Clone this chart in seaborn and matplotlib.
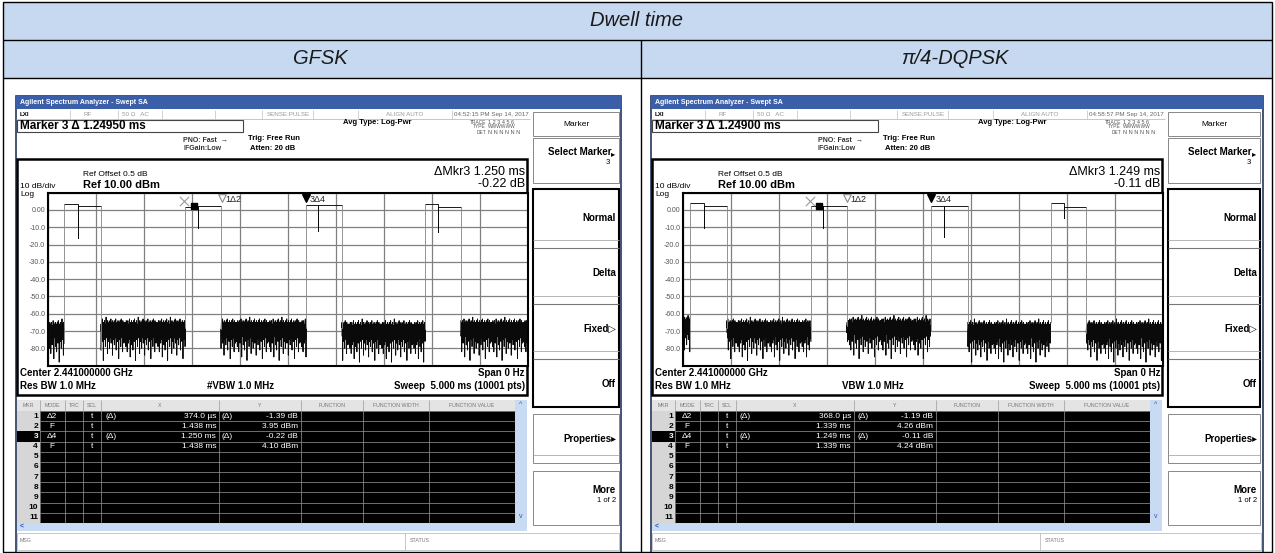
import numpy as np
import pandas as pd
import matplotlib
matplotlib.use('Agg')
import matplotlib.pyplot as plt
from matplotlib.patches import Rectangle
import seaborn as sns

# ---------------- values ----------------
TABLE_TITLE = 'Dwell time'
MODULATIONS = ['GFSK', 'π/4-DQPSK']
TIMESTAMPS = ['04:52:15 PM Sep 14, 2017', '04:58:57 PM Sep 14, 2017']
MARKER_READOUT = ['Marker 3 Δ 1.24950 ms', 'Marker 3 Δ 1.24900 ms']
DELTA_MKR_X = ['ΔMkr3 1.250 ms', 'ΔMkr3 1.249 ms']
DELTA_MKR_Y = ['-0.22 dB', '-0.11 dB']
VBW_LABELS = ['#VBW 1.0 MHz', 'VBW 1.0 MHz']

# marker table, rows 1..4
MKR_MODE = ['Δ2', 'F', 'Δ4', 'F']
MKR_REF = ['(Δ)', '', '(Δ)', '']
GFSK_MKR_X = ['374.0 µs', '1.438 ms', '1.250 ms', '1.438 ms']
GFSK_MKR_Y = ['-1.39 dB', '3.95 dBm', '-0.22 dB', '4.10 dBm']
DQPSK_MKR_X = ['368.0 µs', '1.339 ms', '1.249 ms', '1.339 ms']
DQPSK_MKR_Y = ['-1.19 dB', '4.26 dBm', '-0.11 dB', '4.24 dBm']

# marker positions on the trace (ms): markers 1, 2, 3, 4
GFSK_MKR_T = [1.812, 1.438, 2.688, 1.438]
DQPSK_MKR_T = [1.707, 1.339, 2.588, 1.339]

# bursts: rising edge, level step, falling edge (ms), levels (dBm)
GFSK_RISE = [0.17, 1.43, 2.69, 3.93]
GFSK_STEP = [0.31, 1.56, 2.81, 4.06]
GFSK_FALL = [0.55, 1.80, 3.06, 4.30]
GFSK_TOP1 = [3.3, 2.0, 2.6, 3.4]
GFSK_TOP2 = [2.4, 2.4, 2.6, 1.8]
GFSK_DIP = [-16.4, -10.6, -12.0, -12.5]
GFSK_FLOOR = [-71, -70, -70, -71, -70]

DQPSK_RISE = [0.073, 1.33, 2.58, 3.83]
DQPSK_STEP = [0.215, 1.46, 2.72, 3.97]
DQPSK_FALL = [0.455, 1.705, 2.966, 4.20]
DQPSK_TOP1 = [3.8, 2.4, 2.4, 3.9]
DQPSK_TOP2 = [2.4, 2.4, 2.4, 1.9]
DQPSK_DIP = [-10.6, -10.6, -15.7, -4.4]
DQPSK_FLOOR = [-68, -70, -69, -71, -71]

# noise floor samples (dB around the floor level)
NOISE_DEV = [3, -2, 5, -6, 1, 4, -9, 2, 6, -3, 0, 5, -12, 3, -1, 6, -4, 2, -7, 4,
             1, -2, 7, -5, 3, -15, 2, 5, -1, 4, -3, 6, -8, 1, 3, -2, 5, -11, 4, 0,
             6, -4, 2, -6, 7, 1, -3, 4, -17, 3, 5, -2, 0, 6, -5, 2, 4, -9, 3, -1,
             8, -4, 1, 5, -3, 2, -13, 6, 0, 3, -6, 4, -2, 5, 1, -10, 3, 6, -4, 2,
             -1, 7, -7, 4, 0, 5, -3, 2, -14, 6, 1, -5, 4, 3, -2, 5, -8, 2, 6, -1,
             3, -4, 7, 0, -11, 4, 2, -3, 5, 1, -6, 3, 6, -2, 4, -16, 2, 5, -1, 3,
             -5, 6, 0, 4, -9, 2, 7, -3, 1, 5, -4, 3, -12, 6, 2, -2, 4, 0, -7, 5]

Y_TICKS = [10, 0, -10, -20, -30, -40, -50, -60, -70, -80, -90]
Y_TICK_LABELS = ['', '0.00', '-10.0', '-20.0', '-30.0', '-40.0', '-50.0', '-60.0', '-70.0', '-80.0', '']

sns.set_theme(style='white')
plt.rcParams['font.family'] = ['Liberation Sans', 'DejaVu Sans']

W, H = 1275, 553
fig = plt.figure(figsize=(W / 100, H / 100), dpi=100)
bg = fig.add_axes([0, 0, 1, 1])
bg.set_xlim(0, W)
bg.set_ylim(H, 0)
bg.axis('off')


def box(x0, y0, x1, y1, fc='none', ec='black', lw=0.8, z=1):
    bg.add_patch(Rectangle((x0, y0), x1 - x0, y1 - y0, facecolor=fc,
                           edgecolor=ec, linewidth=lw, zorder=z))


def hline(y, x0, x1, color='black', lw=0.8, z=3):
    bg.plot([x0, x1], [y, y], color=color, lw=lw, zorder=z, solid_capstyle='butt')


def vline(x, y0, y1, color='black', lw=0.8, z=3):
    bg.plot([x, x], [y0, y1], color=color, lw=lw, zorder=z, solid_capstyle='butt')


def label(x, y, s, size=6, ha='left', va='center', weight='normal', color='black', style='normal', z=6):
    bg.text(x, y, s, fontsize=size, ha=ha, va=va, fontweight=weight, color=color,
            fontstyle=style, zorder=z)


def build_trace(rise, step, fall, top1, top2, dip, floor, start):
    rows = []
    piece = 0
    seg_start = [0.0] + list(fall)
    seg_end = list(rise) + [5.0]
    noise = []
    for i in range(len(seg_end)):
        n = max(int((seg_end[i] - seg_start[i]) * 420), 2)
        k = start + i * 37
        seg = []
        for tt in np.linspace(seg_start[i], seg_end[i], n):
            seg.append((tt, floor[i] + NOISE_DEV[k % len(NOISE_DEV)]))
            k += 1
        noise.append(seg)
    for i, seg in enumerate(noise):
        for tt, yy in seg:
            rows.append((piece, 'trace', tt, yy))
        piece += 1
        if i < len(rise):
            # rising edge, burst top with its dip, falling edge
            rows += [(piece, 'edge', rise[i], seg[-1][1]), (piece, 'edge', rise[i], top1[i])]
            piece += 1
            for tt, yy in [(rise[i], top1[i]), (step[i], top1[i]), (step[i], dip[i]),
                           (step[i], top2[i]), (fall[i], top2[i])]:
                rows.append((piece, 'trace', tt, yy))
            piece += 1
            rows += [(piece, 'edge', fall[i], top2[i]), (piece, 'edge', fall[i], noise[i + 1][0][1])]
            piece += 1
    return pd.DataFrame(rows, columns=['piece', 'kind', 't', 'dB'])


# ---------------- outer table ----------------
box(3, 2, 1272, 78, fc='#c6d9f1', ec='none', z=0)
box(3, 2, 1272, 552, fc='none', ec='black', lw=1.0, z=8)
hline(40, 3, 1272, lw=1.0, z=8)
hline(78, 3, 1272, lw=1.0, z=8)
vline(641, 40, 552, lw=1.0, z=8)
label(637, 21, TABLE_TITLE, 14.5, ha='center', style='italic', color='#1a1a1a')
label(320, 59, MODULATIONS[0], 14.5, ha='center', style='italic', color='#1a1a1a')
label(955, 59, MODULATIONS[1], 14.5, ha='center', style='italic', color='#1a1a1a')


def draw_screen(i, dx, left, right, sk_right, trace, mkr_t, mkr_x, mkr_y):
    # frame and title bar
    box(left, 96, right, 553, fc='white', ec='#22355f', lw=1.2, z=1)
    box(left, 96, right, 109, fc='#3b5ea9', ec='none', z=2)
    label(left + 4, 102.5, 'Agilent Spectrum Analyzer - Swept SA', 5, weight='bold', color='white')

    # status row
    hline(119, left, 530 + dx, color='#b0b0b0', lw=0.5)
    for xs in [70, 118, 162, 215, 262, 313, 358, 452]:
        vline(xs + dx, 110, 119, color='#c0c0c0', lw=0.5)
    label(20 + dx, 114.5, 'LXI', 4.5, weight='bold')
    label(88 + dx, 114.5, 'RF', 4.5, ha='center', color='#999999')
    label(122 + dx, 114.5, '50 Ω   AC', 4.5, color='#999999')
    label(288 + dx, 114.5, 'SENSE:PULSE', 4.5, ha='center', color='#999999')
    label(405 + dx, 114.5, 'ALIGN AUTO', 4.5, ha='center', color='#999999')
    label(529 + dx, 114.5, TIMESTAMPS[i], 4.5, ha='right', color='#666666')

    # marker readout and settings
    box(17 + dx, 120, 243 + dx, 132, ec='#444444', lw=0.8, z=2)
    label(20 + dx, 126, MARKER_READOUT[i], 8.5, weight='bold')
    label(183 + dx, 140, 'PNO: Fast  →', 5, weight='bold', color='#333333')
    label(183 + dx, 149, 'IFGain:Low', 5, weight='bold', color='#333333')
    label(248 + dx, 139, 'Trig: Free Run', 5.5, weight='bold')
    label(250 + dx, 149, 'Atten: 20 dB', 5.5, weight='bold')
    label(343 + dx, 122, 'Avg Type: Log-Pwr', 5.5, weight='bold')
    label(486 + dx, 122, 'TRACE', 3.5, ha='right', color='#555555')
    label(486 + dx, 127, 'TYPE', 3.5, ha='right', color='#555555')
    label(486 + dx, 132, 'DET', 3.5, ha='right', color='#555555')
    label(488 + dx, 122, '1 2 3 4 5 6', 4, color='#555555')
    label(488 + dx, 127, 'WWWWWW', 3.5, color='#555555')
    label(488 + dx, 132, 'N N N N N N', 4, color='#555555')

    # graph window
    box(17 + dx, 159, 527 + dx, 395, ec='black', lw=1.8, z=2)
    label(83 + dx, 175, 'Ref Offset 0.5 dB', 6)
    label(20 + dx, 186, '10 dB/div', 6)
    label(83 + dx, 185, 'Ref 10.00 dBm', 8, weight='bold')
    label(20 + dx, 194, 'Log', 6)
    label(525 + dx, 172, DELTA_MKR_X[i], 9, ha='right')
    label(525 + dx, 184, DELTA_MKR_Y[i], 9, ha='right')
    label(20 + dx, 373, 'Center 2.441000000 GHz', 7, weight='bold')
    label(20 + dx, 386, 'Res BW 1.0 MHz', 7, weight='bold')
    label(207 + dx, 386, VBW_LABELS[i], 7, weight='bold')
    label(525 + dx, 373, 'Span 0 Hz', 7, ha='right', weight='bold')
    label(525 + dx, 386, 'Sweep  5.000 ms (10001 pts)', 7, ha='right', weight='bold')

    x0, x1, y0, y1 = 48 + dx, 528 + dx, 192.7, 365.6
    ax = fig.add_axes([x0 / W, 1 - y1 / H, (x1 - x0) / W, (y1 - y0) / H])
    sns.lineplot(data=trace, x='t', y='dB', hue='kind', units='piece', ax=ax,
                 palette={'trace': '#0a0a0a', 'edge': '#8c8c8c'}, lw=0.65,
                 estimator=None, sort=False, legend=False)
    ax.set_xlim(0, 5)
    ax.set_ylim(-90, 10)
    ax.set_xticks(np.arange(0, 5.01, 0.5))
    ax.set_yticks(Y_TICKS)
    ax.set_yticklabels(Y_TICK_LABELS)
    ax.set_xticklabels([])
    ax.set_xlabel('')
    ax.set_ylabel('')
    ax.tick_params(length=0, labelsize=5, pad=2, labelcolor='#555555')
    ax.grid(True, color='#808080', lw=0.9)
    ax.set_axisbelow(True)
    for sp in ax.spines.values():
        sp.set_color('black')
        sp.set_linewidth(1.5)

    m1, m2, m3, m4 = mkr_t
    ax.scatter([m1], [6.8], marker='v', s=30, facecolors='white', edgecolors='#888888',
               linewidths=0.8, zorder=5, clip_on=False)
    ax.text(m1 + 0.04, 6.3, '1Δ2', fontsize=6.5, va='center', color='#222222')
    ax.scatter([m3], [6.8], marker='v', s=30, color='black', zorder=5, clip_on=False)
    ax.text(m3 + 0.04, 6.3, '3Δ4', fontsize=6.5, va='center', color='#222222')
    ax.scatter([m4 - 0.02], [5.0], marker='x', s=45, color='#999999', linewidths=0.8, zorder=5)
    ax.scatter([m2 + 0.08], [2.5], marker='s', s=14, color='black', zorder=6)

    # marker table
    tx = [17, 40, 65, 83, 101, 219, 301, 363, 429, 515]
    box(17 + dx, 400, 515 + dx, 411, fc='#e4e4e4', ec='none', z=2)
    box(17 + dx, 411, 515 + dx, 523, fc='black', ec='none', z=2)
    box(17 + dx, 411, 40 + dx, 523, fc='#d6d6d6', ec='none', z=2)
    heads = [('MKR', 28), ('MODE', 52), ('TRC', 74), ('SCL', 92), ('X', 160), ('Y', 260),
             ('FUNCTION', 332), ('FUNCTION WIDTH', 396), ('FUNCTION VALUE', 472)]
    for h, hx in heads:
        label(hx + dx, 405.5, h, 3.8, ha='center', color='#777777')
    row_h = (523 - 411) / 11
    for r in range(11):
        ry = 411 + r * row_h
        hline(ry, 40 + dx, 515 + dx, color='#9a9a9a', lw=0.5)
        if r == 2:
            box(17 + dx, ry, 40 + dx, ry + row_h, fc='black', ec='none', z=2)
        label(38 + dx, ry + row_h / 2, str(r + 1), 6, ha='right', weight='bold',
              color='white' if r == 2 else 'black')
    for cx in tx[1:-1]:
        vline(cx + dx, 400, 523, color='#9a9a9a', lw=0.5)
    for r in range(4):
        cy = 411 + r * row_h + row_h / 2
        label(52 + dx, cy, MKR_MODE[r], 6, ha='center', color='white')
        label(92 + dx, cy, 't', 6, ha='center', color='white')
        label(105 + dx, cy, MKR_REF[r], 6, color='white')
        label(216 + dx, cy, mkr_x[r], 6, ha='right', color='white')
        label(222 + dx, cy, MKR_REF[r], 6, color='white')
        label(298 + dx, cy, mkr_y[r], 6, ha='right', color='white')
    box(17 + dx, 523, 515 + dx, 531, fc='#c9dbf2', ec='none', z=2)
    label(20 + dx, 527, '<', 5, color='#3355aa', weight='bold')
    box(515 + dx, 400, 527 + dx, 531, fc='#c9dbf2', ec='none', z=2)
    label(521 + dx, 405, '^', 5, ha='center', color='#3355aa')
    label(521 + dx, 517, 'v', 5, ha='center', color='#3355aa')

    # message row
    box(17 + dx, 533, right - 2, 550, fc='white', ec='#b0b0b0', lw=0.5, z=2)
    label(20 + dx, 541, 'MSG', 3.8, color='#777777')
    vline(405 + dx, 533, 550, color='#b0b0b0', lw=0.5)
    label(410 + dx, 541, 'STATUS', 3.8, color='#777777')

    # softkeys
    sl = 533 + dx
    sx = sk_right - 3
    box(sl, 112, sk_right, 136, ec='#888888', lw=0.7, z=2)
    label((sl + sk_right) / 2, 124, 'Marker', 6, ha='center')
    box(sl, 138, sk_right, 183, ec='#888888', lw=0.7, z=2)
    label(sx - 5, 152, 'Select Marker', 7, ha='right', weight='bold')
    label(sx - 1, 155, '▸', 6, ha='right')
    label(sx - 6, 162, '3', 5.5, ha='right')
    box(sl, 189, sk_right, 407, ec='black', lw=1.5, z=3)
    for ya, yb in [(240, 248), (296, 304), (351, 359)]:
        hline(ya, sl, sk_right, color='#aaaaaa', lw=0.6)
        hline(yb, sl, sk_right, color='#777777', lw=0.8)
    label(sx, 218, 'Normal', 7, ha='right', weight='bold')
    label(sx, 273, 'Delta', 7, ha='right', weight='bold')
    label(sx, 329, 'Fixed▷', 7, ha='right', weight='bold')
    label(sx, 384, 'Off', 7, ha='right', weight='bold')
    box(sl, 414, sk_right, 463, ec='#888888', lw=0.7, z=2)
    hline(455, sl, sk_right, color='#aaaaaa', lw=0.6)
    label(sx, 439, 'Properties▸', 7, ha='right', weight='bold')
    box(sl, 471, sk_right, 525, ec='#888888', lw=0.7, z=2)
    label(sx, 490, 'More', 7, ha='right', weight='bold')
    label(sx, 501, '1 of 2', 5.5, ha='right')


gfsk = build_trace(GFSK_RISE, GFSK_STEP, GFSK_FALL, GFSK_TOP1, GFSK_TOP2,
                   GFSK_DIP, GFSK_FLOOR, 0)
dqpsk = build_trace(DQPSK_RISE, DQPSK_STEP, DQPSK_FALL, DQPSK_TOP1, DQPSK_TOP2,
                    DQPSK_DIP, DQPSK_FLOOR, 60)

draw_screen(0, 0, 16, 621, 619, gfsk, GFSK_MKR_T, GFSK_MKR_X, GFSK_MKR_Y)
draw_screen(1, 635, 651, 1263, 1260, dqpsk, DQPSK_MKR_T, DQPSK_MKR_X, DQPSK_MKR_Y)

fig.savefig('out.png', dpi=100)
